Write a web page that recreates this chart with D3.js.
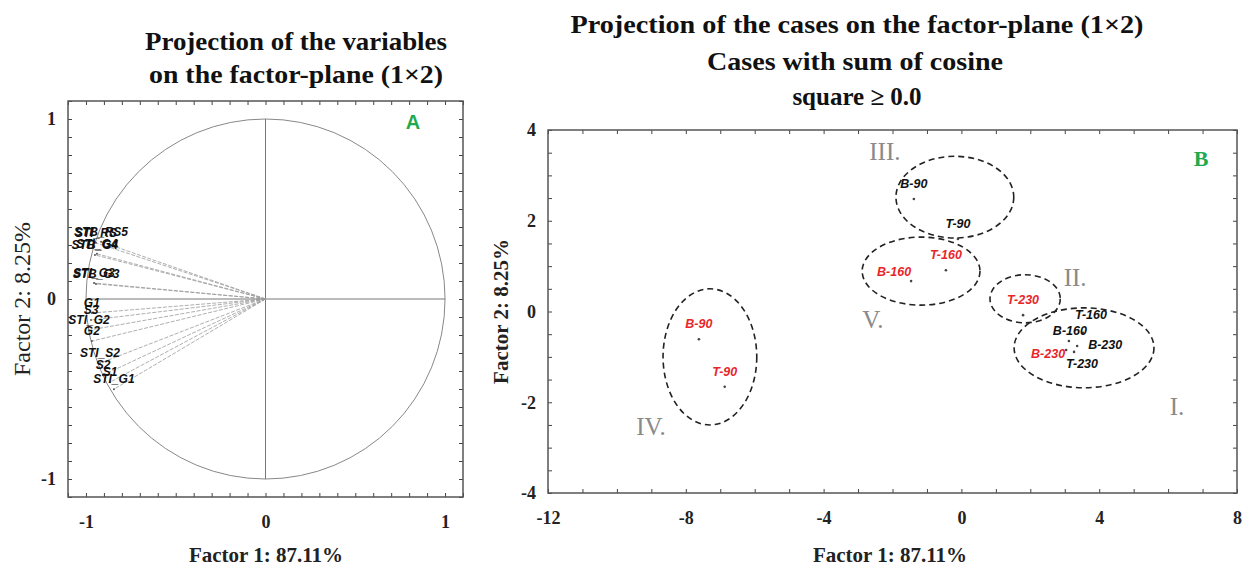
<!DOCTYPE html>
<html>
<head>
<meta charset="utf-8">
<script src="https://cdn.jsdelivr.net/npm/d3@7"></script>
<style>
  body { margin: 0; background: #fff; }
  svg { display: block; }
  .title { font-family: "Liberation Serif", serif; font-weight: bold; font-size: 25px; fill: #111; }
  .tick-lbl text { font-family: "Liberation Serif", serif; font-weight: bold; font-size: 18px; fill: #222; }
  .axis-title { font-family: "Liberation Serif", serif; font-weight: bold; font-size: 21px; fill: #222; }
  .var-lbl { font-family: "Liberation Sans", Arial, sans-serif; font-weight: bold; font-style: italic; font-size: 12px; fill: #111; }
  .case-lbl { font-family: "Liberation Sans", Arial, sans-serif; font-weight: bold; font-style: italic; font-size: 12.5px; }
  .roman { font-family: "Liberation Serif", serif; font-size: 25px; fill: #8a8a8a; }
</style>
</head>
<body>
<div id="chart"></div>
<script>
// Panel A: variable loadings on factor 1 / factor 2
const varNames = ['STI_RS', 'STB_RS5', 'STB_G4', 'STI_G4', 'STI_G3', 'STB_G3', 'G1', 'S3', 'STI_G2', 'G2', 'STI_S2', 'S2', 'S1', 'STI_G1'];
const varF1 = [-0.944, -0.916, -0.950, -0.939, -0.955, -0.944, -0.967, -0.972, -0.983, -0.967, -0.922, -0.905, -0.866, -0.844];
const varF2 = [0.312, 0.318, 0.245, 0.251, 0.089, 0.084, -0.078, -0.117, -0.173, -0.234, -0.357, -0.423, -0.462, -0.501];

// Panel B: case scores
const caseNames = ['B-90', 'T-90', 'T-160', 'B-160', 'T-230', 'T-160', 'B-160', 'B-230', 'B-230', 'T-230', 'B-90', 'T-90'];
const caseF1 = [-1.38, -0.10, -0.45, -1.46, 1.79, 3.53, 3.12, 3.36, 3.04, 3.27, -7.62, -6.87];
const caseF2 = [2.48, 1.60, 0.91, 0.67, -0.08, -0.47, -0.65, -0.76, -0.85, -0.89, -0.61, -1.66];
const caseGroup = ['dark', 'dark', 'red', 'red', 'red', 'dark', 'dark', 'dark', 'red', 'dark', 'red', 'red'];

// Cluster ellipses (centre and radii in factor units)
const clusterCx = [-0.19, -1.17, 1.85, 3.56, -7.30];
const clusterCy = [2.52, 0.89, 0.28, -0.80, -1.00];
const clusterRx = [1.71, 1.71, 1.02, 2.03, 1.36];
const clusterRy = [0.90, 0.75, 0.53, 0.88, 1.50];

const romanNames = ['III.', 'II.', 'V.', 'IV.', 'I.'];
const romanF1 = [-2.22, 3.30, -2.57, -9.01, 6.26];
const romanF2 = [3.52, 0.74, -0.19, -2.55, -2.10];

const ticksA = [-1, 0, 1];
const ticksBx = [-12, -8, -4, 0, 4, 8];
const ticksBy = [-4, -2, 0, 2, 4];

const width = 1247, height = 568;
const svg = d3.select('#chart').append('svg')
    .attr('width', width)
    .attr('height', height);

const colors = { dark: '#111', red: '#e8262a' };
const fmt = d => String(d);   // plain hyphen minus, like the original

// inward ticks on all four sides plus the box
function frame(g, x, y, minorX, minorY) {
    const [x0, x1] = x.range();
    const [y0, y1] = y.range();
    g.append('g').attr('transform', `translate(0,${y0})`)
        .call(d3.axisBottom(x).tickValues(minorX).tickSize(-4).tickFormat(''));
    g.append('g').attr('transform', `translate(0,${y1})`)
        .call(d3.axisTop(x).tickValues(minorX).tickSize(-4).tickFormat(''));
    g.append('g').attr('transform', `translate(${x0},0)`)
        .call(d3.axisLeft(y).tickValues(minorY).tickSize(-4).tickFormat(''));
    g.append('g').attr('transform', `translate(${x1},0)`)
        .call(d3.axisRight(y).tickValues(minorY).tickSize(-4).tickFormat(''));
    g.selectAll('.domain').remove();
    g.selectAll('.tick line').attr('stroke', '#444');
    g.append('rect')
        .attr('x', x0).attr('y', y1)
        .attr('width', x1 - x0).attr('height', y0 - y1)
        .attr('fill', 'none').attr('stroke', '#555').attr('stroke-width', 1.5);
}

function labels(g, x, y, xt, yt) {
    const [y0] = y.range();
    const [x0] = x.range();
    g.append('g').attr('class', 'tick-lbl').attr('transform', `translate(0,${y0})`)
        .call(d3.axisBottom(x).tickValues(xt).tickSize(0).tickPadding(18).tickFormat(fmt))
        .select('.domain').remove();
    g.append('g').attr('class', 'tick-lbl').attr('transform', `translate(${x0},0)`)
        .call(d3.axisLeft(y).tickValues(yt).tickSize(0).tickPadding(12).tickFormat(fmt))
        .select('.domain').remove();
}

function title(g, x, y, len, txt) {
    const t = g.append('text').attr('class', 'title')
        .attr('x', x).attr('y', y).attr('text-anchor', 'middle')
        .text(txt);
    if (len) t.attr('textLength', len).attr('lengthAdjust', 'spacingAndGlyphs');
}

// ---------- Panel A ----------
const xA = d3.scaleLinear().domain([-1.1, 1.1]).range([68, 463]);
const yA = d3.scaleLinear().domain([-1.1, 1.1]).range([497, 101]);
const gA = svg.append('g');

const minorA = d3.range(-11, 12).map(d => d / 10);
frame(gA, xA, yA, minorA, minorA);
labels(gA, xA, yA, ticksA, ticksA);

// unit circle and crosshair
gA.append('ellipse')
    .attr('cx', xA(0)).attr('cy', yA(0))
    .attr('rx', xA(1) - xA(0)).attr('ry', yA(0) - yA(1))
    .attr('fill', 'none').attr('stroke', '#888').attr('stroke-width', 1);
gA.append('line')
    .attr('x1', xA(0)).attr('x2', xA(0)).attr('y1', yA(1)).attr('y2', yA(-1))
    .attr('stroke', '#777');
gA.append('line')
    .attr('x1', xA(-1)).attr('x2', xA(1)).attr('y1', yA(0)).attr('y2', yA(0))
    .attr('stroke', '#777');

const vars = varNames.map((n, i) => ({ name: n, x: varF1[i], y: varF2[i] }));
gA.selectAll('.vec').data(vars).enter().append('line')
    .attr('class', 'vec')
    .attr('x1', xA(0)).attr('y1', yA(0))
    .attr('x2', d => xA(d.x)).attr('y2', d => yA(d.y))
    .attr('stroke', '#9a9a9a').attr('stroke-width', 0.8)
    .attr('stroke-dasharray', '4,1.5');
gA.selectAll('.vdot').data(vars).enter().append('circle')
    .attr('cx', d => xA(d.x)).attr('cy', d => yA(d.y))
    .attr('r', 1).attr('fill', '#555');
gA.selectAll('.var-lbl').data(vars).enter().append('text')
    .attr('class', 'var-lbl')
    .attr('x', d => xA(d.x))
    .attr('y', d => yA(d.y) - 6)
    .attr('text-anchor', 'middle')
    .text(d => d.name);

gA.append('text')
    .attr('x', 413).attr('y', 129)
    .attr('text-anchor', 'middle')
    .style('font-family', '"Liberation Sans", Arial, sans-serif')
    .style('font-weight', 'bold').style('font-size', '20px')
    .attr('fill', '#1faa50')
    .text('A');

title(gA, 296, 50, 302, 'Projection of the variables');
title(gA, 296, 83, 294, 'on the factor-plane (1\u00d72)');
gA.append('text').attr('class', 'axis-title')
    .attr('x', 266).attr('y', 562).attr('text-anchor', 'middle')
    .text('Factor 1: 87.11%');
gA.append('text').attr('class', 'axis-title')
    .attr('transform', `translate(30,${yA(0)}) rotate(-90)`)
    .attr('text-anchor', 'middle')
    .style('font-weight', 'normal').style('font-size', '24px')
    .text('Factor 2: 8.25%');

// ---------- Panel B ----------
const xB = d3.scaleLinear().domain([-12, 8]).range([548, 1237]);
const yB = d3.scaleLinear().domain([-4, 4]).range([493, 130]);
const gB = svg.append('g');

frame(gB, xB, yB, d3.range(-12, 9), d3.range(-4, 4.01, 0.5));
labels(gB, xB, yB, ticksBx, ticksBy);

const clusters = clusterCx.map((c, i) => ({ cx: c, cy: clusterCy[i], rx: clusterRx[i], ry: clusterRy[i] }));
gB.selectAll('.cluster').data(clusters).enter().append('ellipse')
    .attr('class', 'cluster')
    .attr('cx', d => xB(d.cx)).attr('cy', d => yB(d.cy))
    .attr('rx', d => xB(d.rx) - xB(0)).attr('ry', d => yB(0) - yB(d.ry))
    .attr('fill', 'none').attr('stroke', '#222')
    .attr('stroke-width', 1.6).attr('stroke-dasharray', '6,4');

const cases = caseNames.map((n, i) => ({ name: n, x: caseF1[i], y: caseF2[i], g: caseGroup[i] }));
// label nudges (px) where the default "centred above" would overlap
const nudge = { 3: [-17, 6], 5: [8, -3], 6: [1, 5], 7: [28, 14], 8: [-18, 19], 9: [8, 27] };
gB.selectAll('.cdot').data(cases).enter().append('circle')
    .attr('cx', d => xB(d.x)).attr('cy', d => yB(d.y))
    .attr('r', 1.3).attr('fill', '#444');
gB.selectAll('.case-lbl').data(cases).enter().append('text')
    .attr('class', 'case-lbl')
    .attr('x', (d, i) => xB(d.x) + (nudge[i] ? nudge[i][0] : 0))
    .attr('y', (d, i) => yB(d.y) - 11 + (nudge[i] ? nudge[i][1] : 0))
    .attr('text-anchor', 'middle')
    .attr('fill', d => colors[d.g])
    .text(d => d.name);

const romans = romanNames.map((n, i) => ({ name: n, x: romanF1[i], y: romanF2[i] }));
gB.selectAll('.roman').data(romans).enter().append('text')
    .attr('class', 'roman')
    .attr('x', d => xB(d.x)).attr('y', d => yB(d.y) + 8)
    .attr('text-anchor', 'middle')
    .text(d => d.name);

gB.append('text')
    .attr('x', 1201).attr('y', 166).attr('text-anchor', 'middle')
    .style('font-family', '"Liberation Serif", serif')
    .style('font-weight', 'bold').style('font-size', '22px')
    .attr('fill', '#1faa50')
    .text('B');

title(gB, 857, 33, 573, 'Projection of the cases on the factor-plane (1\u00d72)');
title(gB, 855, 70, 296, 'Cases with sum of cosine');
title(gB, 857, 105, null, 'square \u2265 0.0');
gB.append('text').attr('class', 'axis-title')
    .attr('x', 890).attr('y', 562).attr('text-anchor', 'middle')
    .text('Factor 1: 87.11%');
gB.append('text').attr('class', 'axis-title')
    .attr('transform', `translate(508,${yB(0)}) rotate(-90)`)
    .attr('text-anchor', 'middle')
    .text('Factor 2:  8.25%');
</script>
</body>
</html>
